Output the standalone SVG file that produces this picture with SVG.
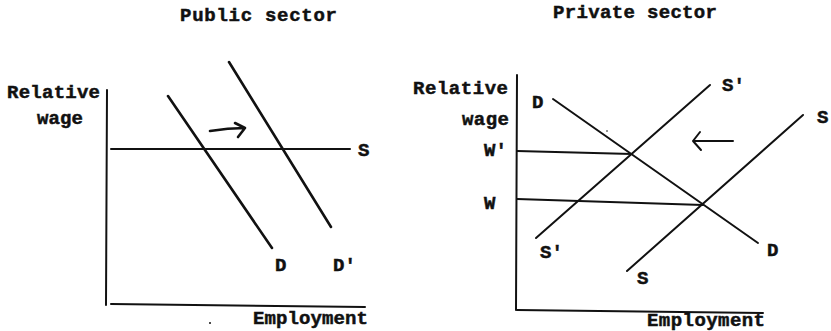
<svg xmlns="http://www.w3.org/2000/svg" width="831" height="331" viewBox="0 0 831 331">
<style>
text{font-family:"Liberation Mono","DejaVu Sans Mono",monospace;font-weight:bold;font-size:19px;fill:#111;stroke:#111;stroke-width:0.5}
.ln{stroke:#111;stroke-width:2;fill:none;stroke-linecap:round;stroke-linejoin:round}
.th{stroke-width:2.6}
</style>
<rect width="831" height="331" fill="#fff"/>
<g id="public">
<text x="180" y="21" textLength="157">Public sector</text>
<text x="7" y="98" textLength="93">Relative</text>
<text x="37" y="124" textLength="46">wage</text>
<text x="253" y="324" textLength="115">Employment</text>
<text x="358" y="156">S</text>
<text x="275" y="271">D</text>
<text x="333" y="271">D'</text>
</g>
<g id="private">
<text x="553" y="18" textLength="164">Private sector</text>
<text x="413" y="94" textLength="95">Relative</text>
<text x="462" y="125" textLength="47">wage</text>
<text x="484" y="156">W'</text>
<text x="484" y="209">W</text>
<text x="647" y="326" textLength="118">Employment</text>
<text x="532" y="108">D</text>
<text x="767" y="256">D</text>
<text x="722" y="91">S'</text>
<text x="540" y="258">S'</text>
<text x="817" y="123">S</text>
<text x="637" y="284">S</text>
</g>
<g id="connectors">
<path class="ln" d="M107 90 L106 305"/>
<path class="ln" d="M111 304 L365 307"/>
<path class="ln" d="M111 149 L350 149"/>
<path class="ln th" d="M168 96 L272 248"/>
<path class="ln th" d="M229 62 L331 227"/>
<path class="ln th" d="M210 131 Q228 128 245 128 M235 123 L245 128 L238 137"/>
<circle cx="210" cy="323" r="1" fill="#111"/>
<path class="ln" d="M517 75 L516 310"/>
<path class="ln" d="M517 310 L763 313"/>
<path class="ln" d="M517 151 L632 154"/>
<path class="ln" d="M517 199 L703 205"/>
<path class="ln" d="M553 99 L758 243"/>
<path class="ln" d="M536 238 L710 85"/>
<path class="ln" d="M627 271 L803 115"/>
<path class="ln" d="M733 141 L693 141 M700 132 L693 141 L701 150"/>
<circle cx="607" cy="131" r="0.8" fill="#111"/>
</g>
</svg>
